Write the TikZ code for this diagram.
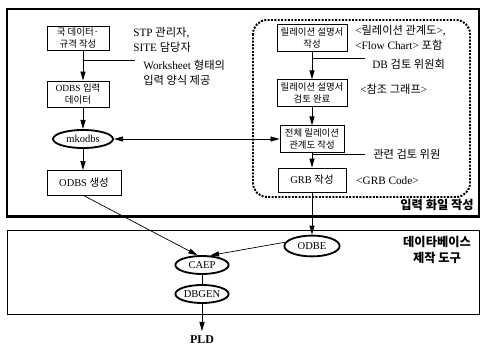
\documentclass[tikz,border=0pt]{standalone}
\usepackage{fontspec}
\setmainfont{Liberation Serif}
\newfontfamily\kr{Noto Sans CJK KR}
\usetikzlibrary{shapes.geometric, arrows.meta}

\begin{document}
\begin{tikzpicture}[x=0.025cm, y=-0.025cm,
    procBox/.style={draw, line width=0.5pt, inner sep=1pt, align=center,
        font=\fontsize{6.7}{8.8}\selectfont},
    toolOval/.style={draw, ellipse, line width=1.3pt, inner sep=0pt,
        minimum width=1.33cm, minimum height=0.45cm, font=\fontsize{7.5}{9}\selectfont},
    noteText/.style={anchor=west, align=left, inner sep=0pt, font=\fontsize{8}{10.5}\selectfont},
    titleText/.style={align=center, inner sep=0pt, font=\fontsize{8.7}{11.5}\selectfont\kr\bfseries},
    flowArrow/.style={-{Triangle[length=6.5pt,width=3.6pt]}, line width=0.7pt},
    bothArrow/.style={{Triangle[length=6.5pt,width=3.6pt]}-{Triangle[length=6.5pt,width=3.6pt]}, line width=0.6pt}]
    \useasboundingbox (0,0) rectangle (480,346);
    \draw[line width=1pt] (7,9) rectangle (479,217);
    \draw[line width=1.6pt] (7,216) -- (479,216);
    \draw[line width=0.6pt] (7,230) rectangle (479,314);
    \draw[densely dotted, line width=1.4pt, rounded corners=0.35cm] (253,20) rectangle (470,197);

    \node[procBox, minimum width=1.55cm, minimum height=0.6cm] (dataSpec) at (78,38) {{\kr 국 데이터·}\\{\kr 규격 작성}};
    \node[procBox, minimum width=1.55cm, minimum height=0.65cm] (odbsInput) at (78,94) {ODBS {\kr 입력}\\{\kr 데이터}};
    \node[toolOval, minimum width=1.5cm] (mkodbs) at (83,139) {mkodbs};
    \node[procBox, minimum width=1.85cm, minimum height=0.62cm, font=\fontsize{7.4}{9}\selectfont] (odbsGen) at (84,183) {ODBS {\kr 생성}};

    \node[procBox, minimum width=1.75cm, minimum height=0.66cm] (relDoc) at (312,38) {{\kr 릴레이션 설명서}\\{\kr 작성}};
    \node[procBox, minimum width=1.75cm, minimum height=0.66cm] (relCheck) at (312,93) {{\kr 릴레이션 설명서}\\{\kr 검토 완료}};
    \node[procBox, minimum width=1.6cm, minimum height=0.66cm] (relMap) at (312,139) {{\kr 전체 릴레이션}\\{\kr 관계도 작성}};
    \node[procBox, minimum width=1.7cm, minimum height=0.6cm, font=\fontsize{7.4}{9}\selectfont] (grbGen) at (312,180) {GRB {\kr 작성}};

    \node[toolOval, minimum width=1.38cm, minimum height=0.52cm] (odbe) at (312,246) {ODBE};
    \node[toolOval] (caep) at (202,265) {CAEP};
    \node[toolOval] (dbgen) at (202,294) {DBGEN};
    \node[font=\fontsize{8.5}{10}\selectfont\bfseries] (pld) at (202,340) {PLD};

    \node[noteText] (stpNote) at (133,40) {STP {\kr 관리자},\\SITE {\kr 담당자}};
    \node[noteText] (wsNote) at (143,73) {Worksheet {\kr 형태의}\\{\kr 입력 양식 제공}};
    \node[noteText] (chartNote) at (355,38) {<{\kr 릴레이션 관계도}>,\\<Flow Chart> {\kr 포함}};
    \node[noteText] (dbNote) at (372,64) {DB {\kr 검토 위원회}};
    \node[noteText] (refNote) at (360,89) {<{\kr 참조 그래프}>};
    \node[noteText] (revNote) at (373,154) {{\kr 관련 검토 위원}};
    \node[noteText] (grbNote) at (356,181) {<GRB Code>};
    \node[titleText] (inputLbl) at (437,205) {입력 화일 작성};
    \node[titleText] (dbLbl) at (437,250) {데이타베이스\\제작 도구};

    \coordinate (wsTick) at (135,60);
    \coordinate (dbTick) at (365,58);
    \coordinate (revTick) at (365,154);
    \draw[line width=0.5pt] (wsTick -| mkodbs) -- (wsTick);
    \draw[line width=0.5pt] (dbTick -| relDoc) -- (dbTick);
    \draw[line width=0.5pt] (revTick -| relMap) -- (revTick);

    \foreach \a/\b in {dataSpec/odbsInput, odbsInput/mkodbs, mkodbs/odbsGen}
        \draw[flowArrow] (\a.south -| mkodbs) -- (\b.north -| mkodbs);
    \foreach \a/\b in {relDoc/relCheck, relCheck/relMap, relMap/grbGen, grbGen/odbe}
        \draw[flowArrow] (\a.south) -- (\b.north);
    \draw[bothArrow] (mkodbs.east) -- (relMap.west);
    \draw[flowArrow, line width=0.5pt] (odbsGen.south) -- (caep.115);
    \draw[flowArrow, line width=0.5pt] (odbe.172) -- (caep.50);
    \draw[line width=0.7pt] (caep.south) -- (dbgen.north);
    \draw[flowArrow] (dbgen.south) -- (pld.north);
\end{tikzpicture}
\end{document}
